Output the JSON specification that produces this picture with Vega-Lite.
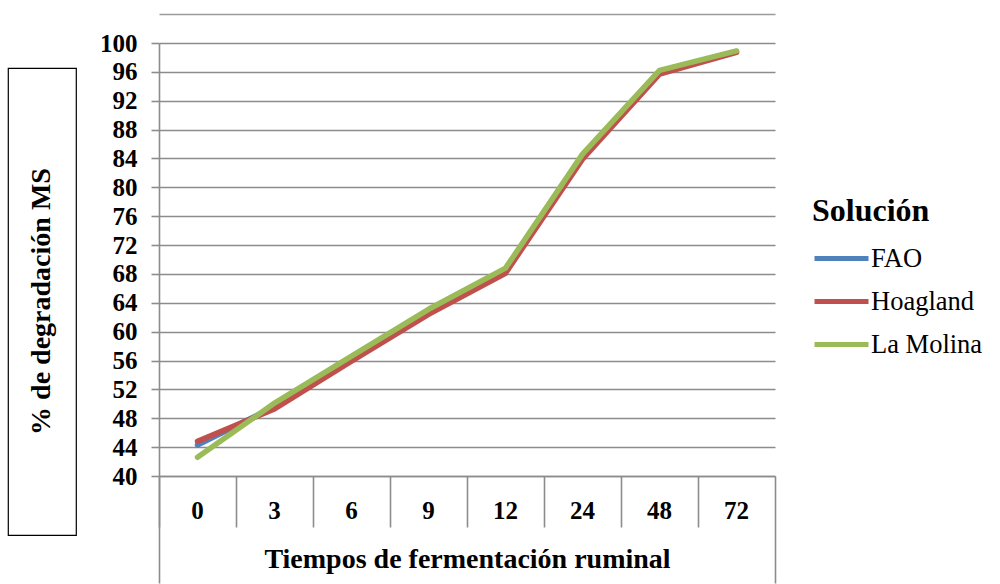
{
  "$schema": "https://vega.github.io/schema/vega-lite/v6.json",
  "background": "white",
  "padding": {"left": 7, "top": 14, "right": 0, "bottom": 0},
  "config": {"font": "Liberation Serif"},
  "spacing": 22,
  "hconcat": [
    {
      "spacing": 0,
      "vconcat": [
        {
          "width": 68,
          "height": 24,
          "view": {"stroke": null},
          "data": {"values": [{"vacio": ""}]},
          "mark": {"type": "text", "opacity": 0},
          "encoding": {"text": {"field": "vacio", "type": "nominal"}}
        },
        {
          "width": 68,
          "height": 467,
          "view": {"stroke": "black", "strokeWidth": 1.2, "fill": "white"},
          "data": {"values": [{"titulo": "% de degradación MS"}]},
          "mark": {"type": "text", "angle": 270, "font": "Liberation Serif", "fontSize": 28, "fontWeight": "bold", "color": "black"},
          "encoding": {"text": {"field": "titulo", "type": "nominal"}}
        }
      ]
    },
    {
      "width": 616,
      "height": 433,
      "view": {"stroke": null},
      "data": {
        "values": [
          {"t": 0, "sol": "FAO", "v": 44.3},
          {"t": 3, "sol": "FAO", "v": 49.6},
          {"t": 6, "sol": "FAO", "v": 56.2},
          {"t": 9, "sol": "FAO", "v": 62.7},
          {"t": 12, "sol": "FAO", "v": 68.4},
          {"t": 24, "sol": "FAO", "v": 84.2},
          {"t": 48, "sol": "FAO", "v": 95.9},
          {"t": 72, "sol": "FAO", "v": 98.8},
          {"t": 0, "sol": "Hoagland", "v": 44.8},
          {"t": 3, "sol": "Hoagland", "v": 49.3},
          {"t": 6, "sol": "Hoagland", "v": 55.9},
          {"t": 9, "sol": "Hoagland", "v": 62.4},
          {"t": 12, "sol": "Hoagland", "v": 68.1},
          {"t": 24, "sol": "Hoagland", "v": 83.9},
          {"t": 48, "sol": "Hoagland", "v": 95.7},
          {"t": 72, "sol": "Hoagland", "v": 98.7},
          {"t": 0, "sol": "La Molina", "v": 42.6},
          {"t": 3, "sol": "La Molina", "v": 50.1},
          {"t": 6, "sol": "La Molina", "v": 56.6},
          {"t": 9, "sol": "La Molina", "v": 63.1},
          {"t": 12, "sol": "La Molina", "v": 68.8},
          {"t": 24, "sol": "La Molina", "v": 84.6},
          {"t": 48, "sol": "La Molina", "v": 96.2},
          {"t": 72, "sol": "La Molina", "v": 98.9}
        ]
      },
      "encoding": {
        "y": {
          "field": "v",
          "type": "quantitative",
          "scale": {"domain": [40, 100], "nice": false, "zero": false},
          "axis": {
            "title": null,
            "values": [40, 44, 48, 52, 56, 60, 64, 68, 72, 76, 80, 84, 88, 92, 96, 100],
            "labelFont": "Liberation Serif",
            "labelFontSize": 25,
            "labelFontWeight": "bold",
            "labelColor": "black",
            "labelPadding": 14,
            "tickSize": 8,
            "tickColor": "#8c8c8c",
            "tickWidth": 1.6,
            "domainColor": "#8c8c8c",
            "domainWidth": 1.6,
            "gridColor": "#8c8c8c",
            "gridWidth": 1.6,
            "gridOpacity": 1
          }
        }
      },
      "layer": [
        {
          "mark": {"type": "line", "strokeWidth": 5.5, "strokeCap": "round", "strokeJoin": "round"},
          "encoding": {
            "x": {
              "field": "t",
              "type": "ordinal",
              "bandPosition": 0.5,
              "scale": {"type": "band", "paddingInner": 0, "paddingOuter": 0},
              "axis": {
                "orient": "bottom",
                "title": "Tiempos de fermentación ruminal",
                "titleFont": "Liberation Serif",
                "titleFontSize": 28,
                "titleFontWeight": "bold",
                "titleColor": "black",
                "titlePadding": 22,
                "labelAngle": 0,
                "labelFont": "Liberation Serif",
                "labelFontSize": 25,
                "labelFontWeight": "bold",
                "labelColor": "black",
                "labelPadding": 22,
                "ticks": false,
                "tickSize": 0,
                "domainColor": "#8c8c8c",
                "domainWidth": 1.6,
                "grid": false
              }
            },
            "color": {
              "field": "sol",
              "type": "nominal",
              "scale": {"domain": ["FAO", "Hoagland", "La Molina"], "range": ["#4f81bd", "#c0504d", "#9bbb59"]},
              "legend": {
                "title": "Solución",
                "orient": "none",
                "legendX": 804,
                "legendY": 153,
                "titleFont": "Liberation Serif",
                "titleFontSize": 32,
                "titleFontWeight": "bold",
                "titleColor": "black",
                "titlePadding": 1,
                "labelFont": "Liberation Serif",
                "labelFontSize": 26.5,
                "labelColor": "black",
                "labelOffset": 0,
                "symbolType": "stroke",
                "symbolSize": 2916,
                "symbolStrokeWidth": 5,
                "rowPadding": -7
              }
            }
          }
        },
        {
          "mark": {"type": "point", "opacity": 0},
          "encoding": {
            "x": {
              "field": "t",
              "type": "ordinal",
              "bandPosition": 0.5,
              "axis": {
                "orient": "bottom",
                "bandPosition": 0,
                "title": null,
                "labels": false,
                "domain": false,
                "grid": false,
                "ticks": true,
                "tickSize": 51,
                "tickColor": "#8c8c8c",
                "tickWidth": 1.6
              }
            }
          }
        },
        {
          "mark": {"type": "point", "opacity": 0},
          "encoding": {
            "x": {
              "field": "t",
              "type": "ordinal",
              "bandPosition": 0.5,
              "axis": {
                "orient": "bottom",
                "bandPosition": 0,
                "values": [0],
                "title": null,
                "labels": false,
                "domain": false,
                "grid": false,
                "ticks": true,
                "tickSize": 107,
                "tickColor": "#8c8c8c",
                "tickWidth": 1.6
              }
            }
          }
        },
        {
          "mark": {"type": "point", "opacity": 0},
          "encoding": {
            "x": {
              "field": "t",
              "type": "ordinal",
              "bandPosition": 0.5,
              "axis": {
                "orient": "bottom",
                "bandPosition": 1,
                "values": [72],
                "title": null,
                "labels": false,
                "domain": false,
                "grid": false,
                "ticks": true,
                "tickSize": 107,
                "tickColor": "#8c8c8c",
                "tickWidth": 1.6
              }
            }
          }
        },
        {
          "mark": {"type": "point", "opacity": 0},
          "encoding": {
            "x": {
              "field": "t",
              "type": "ordinal",
              "bandPosition": 0.5,
              "axis": {
                "orient": "top",
                "offset": 29,
                "title": null,
                "labels": false,
                "ticks": false,
                "grid": false,
                "domain": true,
                "domainColor": "#9a9a9a",
                "domainWidth": 1.5
              }
            }
          }
        }
      ],
      "resolve": {"axis": {"x": "independent"}}
    }
  ]
}
